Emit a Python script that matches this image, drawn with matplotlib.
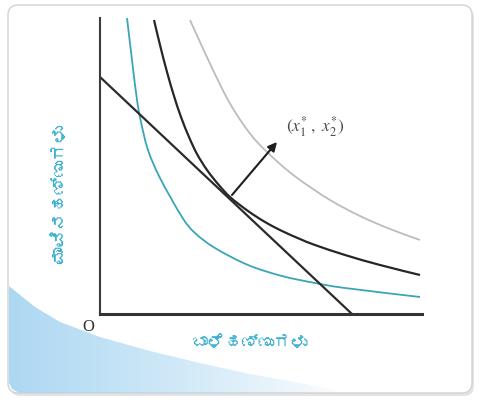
import numpy as np
import matplotlib
matplotlib.use("Agg")
import matplotlib.pyplot as plt
from matplotlib import font_manager
from matplotlib.ft2font import FT2Font
from matplotlib.patches import FancyBboxPatch, Polygon, PathPatch
from matplotlib.path import Path

# ---------------- data ----------------
x_label = "ಬಾಳೆಹಣ್ಣುಗಳು"
y_label = "ಮಾವಿನಹಣ್ಣುಗಳು"
origin_label = "O"
point_label = r"$(x_1^{*}\;,\;x_2^{*})$"

# lowest indifference curve (cyan)
ic_low_x = [27, 32, 37, 41, 48, 60, 82, 95, 115, 148, 182, 215, 245, 320]
ic_low_y = [296, 254, 214, 192, 164, 136, 97, 81, 66, 49, 38, 31, 26, 17]

# middle indifference curve (black, tangent to the budget line)
ic_mid_x = [54, 60, 67, 74, 81, 89, 97, 107, 118, 130, 148, 165, 182, 200, 215, 245, 280, 320]
ic_mid_y = [294, 269, 242, 218, 197, 177, 160, 144, 130, 117, 103, 92, 83, 75, 69, 59, 49, 39]

# highest indifference curve (light grey)
ic_high_x = [90, 100, 113, 128, 143, 158, 180, 200, 230, 260, 290, 320]
ic_high_y = [294, 272, 244, 214, 190, 171, 150, 134, 114, 98, 85, 74]

# budget line
budget_x = [0, 252]
budget_y = [237, 0]

# arrow from the optimum
arrow_start = (132, 119)
arrow_end = (177, 172)
label_pos = (186, 187)

# ---------------- fonts ----------------
def find_family(codepoint):
    for f in font_manager.fontManager.ttflist:
        try:
            cmap = FT2Font(f.fname).get_charmap()
        except Exception:
            continue
        if codepoint in cmap:
            return f.name
    return None

kfam = find_family(0x0CAC)
kfamilies = [kfam, "DejaVu Sans"] if kfam else ["Noto Sans", "DejaVu Sans"]
plt.rcParams["mathtext.fontset"] = "stix"


def smooth_path(xs, ys):
    """Smooth curve passing through the given points (Catmull-Rom as Bezier)."""
    pts = np.column_stack([xs, ys]).astype(float)
    verts = [pts[0]]
    codes = [Path.MOVETO]
    n = len(pts)
    for i in range(n - 1):
        p0 = pts[i - 1] if i > 0 else pts[i]
        p1 = pts[i]
        p2 = pts[i + 1]
        p3 = pts[i + 2] if i + 2 < n else pts[i + 1]
        verts += [p1 + (p2 - p0) / 6.0, p2 - (p3 - p1) / 6.0, p2]
        codes += [Path.CURVE4] * 3
    return Path(verts, codes)


# ---------------- figure ----------------
fig = plt.figure(figsize=(4.79, 4.04), dpi=100)
fig.patch.set_facecolor("white")

bg = fig.add_axes([0, 0, 1, 1])
bg.set_xlim(0, 479)
bg.set_ylim(404, 0)
bg.axis("off")

shadow = FancyBboxPatch((10, 8), 464, 388, boxstyle="round,pad=0,rounding_size=10",
                        fc="#e4e4e4", ec="none", zorder=0)
bg.add_patch(shadow)
card = FancyBboxPatch((8, 5), 464, 388, boxstyle="round,pad=0,rounding_size=10",
                      fc="white", ec="#d2d2d2", lw=1.0, zorder=1)
bg.add_patch(card)

# blue swoosh in the lower-left corner
sw = Polygon([(9, 286), (9, 383), (12, 389), (19, 393), (350, 393),
              (300, 383), (250, 374), (200, 363), (150, 351), (100, 337),
              (60, 322), (35, 307), (9, 286)], closed=True, fc="none", ec="none")
bg.add_patch(sw)
H, W = 404, 479
xx, yy = np.meshgrid(np.arange(W), np.arange(H))
alpha = np.clip(1 - (xx - 10) / 330.0, 0, 1) ** 0.8
img = np.zeros((H, W, 4))
img[..., 0] = 0.68
img[..., 1] = 0.85
img[..., 2] = 0.95
img[..., 3] = alpha
im = bg.imshow(img, extent=(0, W, H, 0), zorder=2, interpolation="bilinear")
im.set_clip_path(sw)

# main axes
ax = fig.add_axes([100 / 479, 1 - 314 / 404, 322 / 479, 296 / 404])
ax.set_xlim(0, 322)
ax.set_ylim(0, 296)
ax.patch.set_alpha(0)
for s in ["top", "right"]:
    ax.spines[s].set_visible(False)
ax.spines["left"].set_color("#3c3c3c")
ax.spines["left"].set_linewidth(1.5)
ax.spines["bottom"].set_color("#333333")
ax.spines["bottom"].set_linewidth(2.2)
ax.set_xticks([])
ax.set_yticks([])

for xs, ys, col, lw in [(ic_high_x, ic_high_y, "#bcbcbc", 1.3),
                        (ic_low_x, ic_low_y, "#3aa5b5", 1.3),
                        (ic_mid_x, ic_mid_y, "#262626", 1.6)]:
    ax.add_patch(PathPatch(smooth_path(xs, ys), fill=False, ec=col, lw=lw,
                           capstyle="butt"))
ax.plot(budget_x, budget_y, color="#2b2b2b", lw=1.6, solid_capstyle="butt", clip_on=False)

ax.annotate("", xy=arrow_end, xytext=arrow_start,
            arrowprops=dict(arrowstyle="-|>", color="#1e1e1e", lw=1.5,
                            mutation_scale=13, shrinkA=0, shrinkB=0))
ax.text(label_pos[0], label_pos[1], point_label, fontsize=12.5, color="#4a4a4a",
        ha="left", va="center")

ax.text(-12, -13, origin_label, fontsize=12, family="Liberation Serif",
        color="#333333", ha="center", va="center", clip_on=False)

bg.text(249, 343, x_label, fontsize=12, color="#3aafd0", ha="center", va="center",
        family=kfamilies, zorder=5)
bg.text(60, 195, y_label, fontsize=12.5, color="#3aafd0", ha="center", va="center",
        rotation=90, family=kfamilies, zorder=5)

fig.savefig("out.png", dpi=100, facecolor="white")
